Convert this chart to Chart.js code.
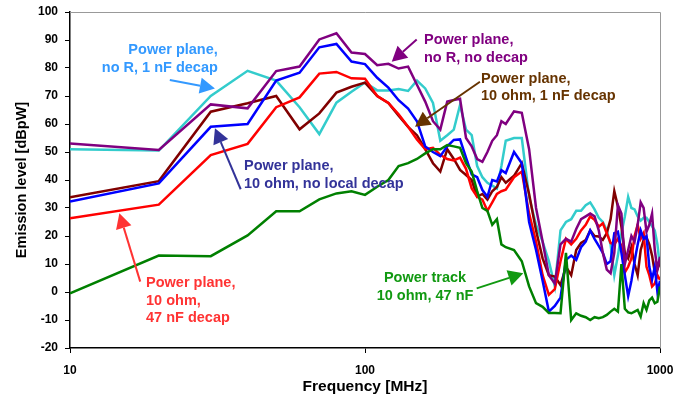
<!DOCTYPE html>
<html>
<head>
<meta charset="utf-8">
<script src="https://cdn.jsdelivr.net/npm/chart.js@4.4.0/dist/chart.umd.min.js"></script>
<style>
  html, body { margin: 0; padding: 0; background: #fff; }
</style>
</head>
<body>
<canvas id="graficoEmision" width="673" height="400"></canvas>
<script>
// Frecuencias [MHz]
const frecuencias = [10,20,30,40,50,60,70,80,90,100,
    110,120,130,140,150,160,170,180,190,200,
    210,220,230,240,250,260,270,280,290,300,
    320,340,360,380,400,420,440,460,480,500,
    520,540,560,580,600,620,640,660,680,700,
    720,740,760,780,800,820,840,860,880,900,
    920,940,960,980,1000];

// Niveles de emision [dBpW]
const planoSinR1nF = [51,50.5,70,79,75.5,66,56.4,67.6,71.5,74.8,
    72,72,72.5,71.8,75.5,72.7,67.5,54,56,58,
    66.8,58,56,45,41,39,38,37,45,54,
    55,55,34,24,18,11,2,22,25,26,
    29,29,31,32,29.5,26.5,25,22,17,6,
    13,21,27,34,30,29.5,27,25.5,26.5,26.5,
    25,23.5,22,17,9];

const planoSinRSinDecap = [53,50.7,67,65.6,78.9,80.5,90.2,92.4,85.5,85,
    81,81.5,79.8,80.5,74,68,61,58,68,68.6,
    69,55,52,47.5,46.5,50,54,56,61,60,
    64.5,64,51,30,18,6,3,17,19,18,
    22.5,26,27,28,27,22,14,8,6.7,14,
    31,28,10,15,20,18,24,32,30,21.5,
    24,28,15,8,12.6];

const plano10ohmSinDecap = [32.3,38.8,59,60,75.5,78.3,87.4,88.6,82.3,81.4,
    76.5,73,68.5,65.5,61,52,50,48.5,52,54.3,
    54.5,48,42,41,36.4,34,40,39.5,43.5,42.5,
    50,46,25,15,4,-7,-5,-2,11.5,13,
    11.5,16,18,22,19,16.5,14,10,11,21,
    21.5,14,6,-1.5,4,11,17,22,19,20,
    9,4.5,9,0,4];

const plano10ohm47nF = [26.3,31.2,48.9,52.9,66,69.5,78,78.6,76.3,76.2,
    70,67.5,63.5,59,54.5,51,51.5,49,47.5,47,
    48,44,37,34,33,29,32,35,36,36.5,
    41,43,28,18,6,-1,1,11,19,17,
    19,22,24,27,25.8,23.3,24.5,21,17.5,17,
    19,16.5,7,9,12,20,24,19,21,9,
    6,2,3,6,4.3];

const plano10ohm1nF = [33.8,39.6,64.4,67.4,70,58.1,63.8,71.2,73.3,74.8,
    70,67.5,63,59,56,51,46,43,51,47.5,
    43.6,41.8,40,34,35,33,36,37.5,41,39,
    41.5,46,35,22,12,6,5.5,2.5,9,6,
    15,17.5,18.6,22,20,19.8,18.6,21,26,36,
    30.5,23.3,14,12,16,10,6,15,18.6,19.5,
    17,13,7,8,11];

const pista10ohm47nF = [-0.5,13,12.8,20.2,28.8,28.8,33.1,35.2,36,34.7,
    37.6,40,45,46,47.5,49.5,51,51,52.5,52,
    51.5,46,43,36,30,29,24,26,17,16,
    15,11,2,-4,-5.3,-7.5,-7.5,-7.6,14,-10,
    -7.6,-8.5,-9,-10,-9,-9.4,-9,-8.2,-7,-6,
    -7,10,-6,-7.3,-7.6,-7,-6.4,-8.8,-4,-6.4,
    -3,-2,-4,-3.5,2];

const ticksY = [-20,-10,0,10,20,30,40,50,60,70,80,90,100];
const ticksX = [10,100,1000];

function puntos(valores){
    return frecuencias.map(function(f, i){ return {x: f, y: valores[i]}; });
}

// Textos y flechas, en coordenadas de los ejes (MHz, dBpW)
const notas = [
    { color: '#3399ff', lineas: ['Power plane,', 'no R, 1 nF decap'], x: 31.7, y: 86.4, align: 'right',
      flecha: [21.8, 75.7, 31.0, 72.7] },
    { color: '#800080', lineas: ['Power plane,', 'no R, no decap'], x: 158.5, y: 90, align: 'left',
      flecha: [149.7, 90.2, 123.2, 82.2] },
    { color: '#663300', lineas: ['Power plane,', '10 ohm, 1 nF decap'], x: 247.4, y: 76.1, align: 'left',
      flecha: [245.3, 75.1, 147.7, 59.0] },
    { color: '#333399', lineas: ['Power plane,', '10 ohm, no local decap'], x: 38.9, y: 45, align: 'left',
      flecha: [37.9, 36.7, 31.0, 58.5] },
    { color: '#ff3333', lineas: ['Power plane,', '10 ohm,', '47 nF decap'], x: 18.1, y: 3.2, align: 'left',
      flecha: [17.3, 3.7, 14.7, 28.1] },
    { color: '#119911', lineas: ['Power track', '10 ohm, 47 nF'], x: 159.8, y: 5, align: 'center',
      flecha: [239.1, 1.3, 344.1, 6.7] }
];

const pluginNotas = {
    id: 'notas',
    afterDatasetsDraw: function(chart){
        let ctx = chart.ctx;
        let sx = chart.scales.x;
        let sy = chart.scales.y;
        let area = chart.chartArea;

        // marco gris arriba y a la derecha
        ctx.save();
        ctx.strokeStyle = '#999999';
        ctx.lineWidth = 1;
        ctx.beginPath();
        ctx.moveTo(area.left, area.top + 0.5);
        ctx.lineTo(area.right + 0.5, area.top + 0.5);
        ctx.lineTo(area.right + 0.5, area.bottom);
        ctx.stroke();
        ctx.restore();

        notas.forEach(function(n){
            ctx.save();
            ctx.fillStyle = n.color;
            ctx.strokeStyle = n.color;
            ctx.font = 'bold 14.5px "Liberation Sans", Arial, sans-serif';
            ctx.textAlign = n.align;
            ctx.textBaseline = 'middle';
            let px = sx.getPixelForValue(n.x);
            let py = sy.getPixelForValue(n.y);
            n.lineas.forEach(function(t, i){
                ctx.fillText(t, px, py + i * 17.5);
            });

            let x1 = sx.getPixelForValue(n.flecha[0]);
            let y1 = sy.getPixelForValue(n.flecha[1]);
            let x2 = sx.getPixelForValue(n.flecha[2]);
            let y2 = sy.getPixelForValue(n.flecha[3]);
            let ang = Math.atan2(y2 - y1, x2 - x1);
            let largo = 15, ancho = 8;
            let bx = x2 - largo * Math.cos(ang);
            let by = y2 - largo * Math.sin(ang);
            ctx.lineWidth = 2;
            ctx.beginPath();
            ctx.moveTo(x1, y1);
            ctx.lineTo(bx, by);
            ctx.stroke();
            ctx.beginPath();
            ctx.moveTo(x2, y2);
            ctx.lineTo(bx + ancho * Math.sin(ang), by - ancho * Math.cos(ang));
            ctx.lineTo(bx - ancho * Math.sin(ang), by + ancho * Math.cos(ang));
            ctx.closePath();
            ctx.fill();
            ctx.restore();
        });
    }
};

function serie(valores, color){
    return {
        data: puntos(valores),
        borderColor: color,
        backgroundColor: color,
        borderWidth: 2.5,
        pointRadius: 0,
        tension: 0,
        fill: false
    };
}

Chart.defaults.font.family = '"Liberation Sans", Arial, sans-serif';
Chart.defaults.color = '#000';

let grafico = new Chart(document.getElementById('graficoEmision').getContext('2d'), {
    type: 'line',
    data: {
        datasets: [
            serie(pista10ohm47nF, '#008000'),
            serie(planoSinRSinDecap, '#800080'),
            serie(plano10ohmSinDecap, '#0000ff'),
            serie(plano10ohm47nF, '#ff0000'),
            serie(plano10ohm1nF, '#800000'),
            serie(planoSinR1nF, '#33cccc')
        ]
    },
    options: {
        responsive: false,
        animation: false,
        devicePixelRatio: 1,
        layout: { padding: { left: 0, right: 13, top: 12, bottom: 0 } },
        plugins: {
            legend: { display: false },
            tooltip: { enabled: false }
        },
        scales: {
            x: {
                type: 'logarithmic',
                min: 10,
                max: 1000,
                afterBuildTicks: function(axis){
                    axis.ticks = ticksX.map(function(v){ return {value: v}; });
                },
                afterFit: function(axis){
                    axis.height = 52;
                    axis.paddingLeft = 0;
                    axis.paddingRight = 0;
                },
                ticks: {
                    autoSkip: false,
                    maxRotation: 0,
                    padding: 10,
                    font: { size: 12, weight: 'bold' },
                    callback: function(v){ return String(v); }
                },
                grid: { drawOnChartArea: false, drawTicks: true, tickLength: 5, color: '#000' },
                border: { color: '#000', width: 1.5 },
                title: {
                    display: true,
                    text: 'Frequency [MHz]',
                    font: { size: 15.5, weight: 'bold' },
                    padding: { top: 0, bottom: 4 }
                }
            },
            y: {
                min: -20,
                max: 100,
                afterBuildTicks: function(axis){
                    axis.ticks = ticksY.map(function(v){ return {value: v}; });
                },
                afterFit: function(axis){
                    axis.width = 70;
                    axis.paddingTop = 0;
                    axis.paddingBottom = 0;
                },
                ticks: {
                    padding: 7,
                    font: { size: 12, weight: 'bold' }
                },
                grid: { drawOnChartArea: false, drawTicks: true, tickLength: 5, color: '#000' },
                border: { color: '#000', width: 1.5 },
                title: {
                    display: true,
                    text: 'Emission level [dBpW]',
                    font: { size: 14.5, weight: 'bold' },
                    padding: { top: 13, bottom: 0 }
                }
            }
        }
    },
    plugins: [pluginNotas]
});
</script>
</body>
</html>
